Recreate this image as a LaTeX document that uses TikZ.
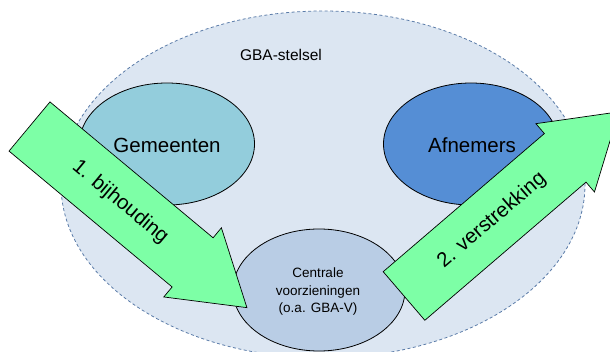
\documentclass[tikz,border=0pt]{standalone}
\usepackage{fontspec}
\setmainfont{Liberation Sans}
\usetikzlibrary{shapes.geometric}
\definecolor{bigfill}{HTML}{DCE6F2}
\definecolor{bigline}{HTML}{5A7BA8}
\definecolor{gemfill}{HTML}{93CDDC}
\definecolor{afnfill}{HTML}{558ED5}
\definecolor{cenfill}{HTML}{B9CDE5}
\definecolor{arrfill}{HTML}{7DFFA6}
\tikzset{
  blob/.style={ellipse, draw=black, line width=0.8pt, inner sep=0pt},
  bigtext/.style={font=\fontsize{20.5}{24}\selectfont},
  arrowshape/.style={fill=arrfill, draw=black, line width=0.7pt, line join=miter},
  arrowtext/.style={font=\fontsize{20.5}{24}\selectfont, transform shape, inner sep=0pt}
}
\begin{document}
\begin{tikzpicture}[x=1pt,y=-1pt]
\useasboundingbox (0,0) rectangle (610,352);
\clip (0,0) rectangle (610,352);
% big system ellipse
\node[ellipse, fill=bigfill, draw=bigline, dash pattern=on 3pt off 2.5pt, line width=0.8pt,
      minimum width=524, minimum height=347, inner sep=0pt] (stelsel) at (323,184.5) {};
\node[font=\fontsize{15.5}{18}\selectfont] (stelsellabel) at (281,55) {GBA-stelsel};
% inner ellipses
\node[blob, fill=gemfill, minimum width=175, minimum height=122] (gem) at (167,144) {};
\node[bigtext] (gemtext) at (167,145) {Gemeenten};
\node[blob, fill=afnfill, minimum width=175, minimum height=122] (afn) at (471,144) {};
\node[bigtext] (afntext) at (472,145) {Afnemers};
\node[blob, fill=cenfill, minimum width=172, minimum height=122] (cen) at (319,290) {};
\node[align=center, font=\fontsize{13.5}{17.5}\selectfont] (centext) at (318,292)
  {Centrale\\voorzieningen\\(o.a. GBA-V)};
% arrow 1: bijhouding
\begin{scope}[shift={(29.5,126.5)}, rotate=-39.8]
  \draw[arrowshape] (0,-32) -- (212.3,-32) -- (212.3,-45) -- (283,0)
    -- (212.3,45) -- (212.3,32) -- (0,32) -- cycle;
  \node[arrowtext] (bijh) at (118,0) {1. bijhouding};
\end{scope}
% arrow 2: verstrekking
\begin{scope}[shift={(404,296)}, rotate=40.6]
  \draw[arrowshape] (0,-32) -- (212.3,-32) -- (212.3,-45) -- (283,0)
    -- (212.3,45) -- (212.3,32) -- (0,32) -- cycle;
  \node[arrowtext] (verstr) at (116,0) {2. verstrekking};
\end{scope}
\end{tikzpicture}
\end{document}
